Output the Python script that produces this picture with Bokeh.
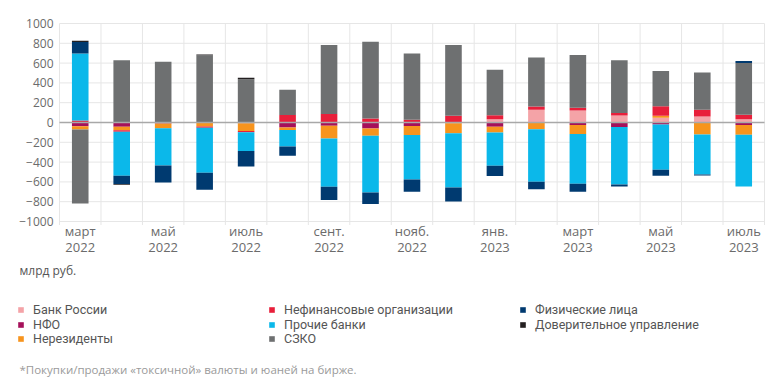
import numpy as np
from bokeh.plotting import figure
from bokeh.models import (Range1d, FixedTicker, ColumnDataSource, Label,
                          Legend, LegendItem)
from bokeh.embed import file_html
from bokeh.resources import INLINE

# ---------------- data ----------------
months = ["2022-03", "2022-04", "2022-05", "2022-06", "2022-07", "2022-08", "2022-09",
          "2022-10", "2022-11", "2022-12", "2023-01", "2023-02", "2023-03", "2023-04",
          "2023-05", "2023-06", "2023-07"]
tick_labels = {0: "март\n2022", 2: "май\n2022", 4: "июль\n2022", 6: "сент.\n2022",
               8: "нояб.\n2022", 10: "янв.\n2023", 12: "март\n2023", 14: "май\n2023",
               16: "июль\n2023"}

series_names = ["Банк России", "НФО", "Нерезиденты", "Нефинансовые организации",
                "Прочие банки", "СЗКО", "Физические лица", "Доверительное управление"]
series_colors = ["#F4A3A7", "#A5105A", "#F7941D", "#E81F3A",
                 "#0BB8EA", "#6E7071", "#003A70", "#231F20"]

bank_russia = [0, 0, 0, 0, 0, 0, 0, 0, 0, 0, 34, 128, 121, 70, 47, 61, 32]
nfo = [-37, -44, -10, 0, -8, -50, -33, -61, -35, -8, -44, -5, -25, -45, -20, 0, -25]
nonresidents = [-34, -34, -47, -40, -78, -27, -128, -73, -92, -100, -57, -62, -92, 0, 20, -121, -99]
nonfinancial = [20, -15, 0, -13, -12, 75, 85, 40, 27, 68, 40, 34, 27, 25, 98, 67, 47]
other_banks = [677, -445, -377, -455, -189, -165, -488, -573, -449, -548, -336, -532, -502, -581, -458, -404, -522]
szko = [-747, 630, 613, 680, 438, 255, 697, 775, 670, 714, 458, 495, 533, 535, 354, 377, 523]
individuals = [115, -83, -172, -172, -158, -94, -135, -117, -124, -142, -104, -74, -81, -20, -60, -10, 20]
trust = [13, -8, 0, 8, 13, 0, 0, 0, 0, 0, 0, 0, 0, 0, 0, 0, 0]

all_series = [bank_russia, nfo, nonresidents, nonfinancial, other_banks, szko, individuals, trust]

y_ticks = [-1000, -800, -600, -400, -200, 0, 200, 400, 600, 800, 1000]

unit_text = "млрд руб."
footnote = "*Покупки/продажи «токсичной» валюты и юаней на бирже."

FONT = "Open Sans"
LEGEND_FONT = "Roboto"
TICK_COLOR = "#6b6b6b"
GRID_COLOR = "#e6e6e6"

# ---------------- geometry (pixels) ----------------
FW, FH = 775, 382            # frame size
PX_X = 41.47                 # px per month
PX_Y = 0.099                 # px per value unit
LEFT0 = 1.0                  # expected frame left on the page
X0_PAGE, Y1000_PAGE = 60.0, 23.0
LEGEND_ROWS_Y = [310, 324.5, 339]

def x_at(page):   # page px -> data x
    return -0.5 + (page - X0_PAGE) / PX_X

def y_at(page):   # page px -> data y
    return 1000 - (page - Y1000_PAGE) / PX_Y

n = len(months)
xs = np.arange(n)

p = figure(frame_width=FW, frame_height=FH, output_backend="svg", toolbar_location=None,
           x_range=Range1d(x_at(LEFT0), x_at(LEFT0 + FW)),
           y_range=Range1d(y_at(FH), y_at(0)),
           min_border_left=0, min_border_right=0, min_border_top=0, min_border_bottom=0)
p.outline_line_color = None
p.background_fill_color = "white"
p.border_fill_color = "white"
p.xgrid.visible = False
p.ygrid.visible = False

# grid lines limited to the plotting area
bounds = list(np.arange(n + 1) - 0.5)
p.segment(x0=bounds, x1=bounds, y0=[y_at(224.5)] * len(bounds), y1=[1000] * len(bounds),
          line_color=GRID_COLOR, line_width=1)
p.segment(x0=[-0.5] * len(y_ticks), x1=[n - 0.5] * len(y_ticks), y0=y_ticks, y1=y_ticks,
          line_color=GRID_COLOR, line_width=1)

renderers = []
pos_base = np.zeros(n)
neg_base = np.zeros(n)
for name, color, vals in zip(series_names, series_colors, all_series):
    v = np.array(vals, dtype=float)
    bottom = np.where(v >= 0, pos_base, neg_base + v)
    top = np.where(v >= 0, pos_base + v, neg_base)
    pos_base = pos_base + np.where(v > 0, v, 0)
    neg_base = neg_base + np.where(v < 0, v, 0)
    src = ColumnDataSource(dict(x=xs, bottom=bottom, top=top))
    r = p.vbar(x="x", bottom="bottom", top="top", width=0.4, source=src,
               fill_color=color, line_color=None)
    renderers.append(r)

# zero line
p.segment(x0=[-0.5], x1=[n - 0.5], y0=[0], y1=[0], line_color="#a8a8a8", line_width=1.5)

# x axis (drawn at a fixed place inside the canvas)
p.xaxis.fixed_location = y_at(250.5)
p.xaxis.ticker = FixedTicker(ticks=list(tick_labels.keys()))
p.xaxis.major_label_overrides = tick_labels
p.xaxis.axis_line_color = None
p.xaxis.major_tick_line_color = None
p.xaxis.minor_tick_line_color = None
p.xaxis.major_tick_out = 0
p.xaxis.major_tick_in = 0
p.xaxis.major_label_standoff = -29
p.xaxis.major_label_text_font = FONT
p.xaxis.major_label_text_font_size = "13px"
p.xaxis.major_label_text_line_height = 0.88
p.xaxis.major_label_text_color = TICK_COLOR

# y axis
p.yaxis.fixed_location = x_at(24)
p.yaxis.ticker = FixedTicker(ticks=y_ticks)
p.yaxis.axis_line_color = None
p.yaxis.major_tick_line_color = None
p.yaxis.minor_tick_line_color = None
p.yaxis.major_tick_out = 0
p.yaxis.major_tick_in = 0
p.yaxis.major_label_standoff = -30
p.yaxis.major_label_text_font = FONT
p.yaxis.major_label_text_font_size = "12px"
p.yaxis.major_label_text_color = TICK_COLOR

# ---------------- legend (one row each, column-major order) & notes ----------------
n_rows = 3
for row in range(n_rows):
    idx = list(range(row, len(series_names), n_rows))
    lg = Legend(items=[LegendItem(label=series_names[i], renderers=[renderers[i]]) for i in idx],
                location=(18 - LEFT0, FH - LEGEND_ROWS_Y[row] - 7), orientation="horizontal",
                glyph_width=7, glyph_height=7, label_standoff=9, label_width=235,
                label_height=12, spacing=0, padding=0, margin=0,
                border_line_color=None, background_fill_alpha=0,
                label_text_font=LEGEND_FONT, label_text_font_size="12.5px",
                label_text_color="#555555")
    p.add_layout(lg, "center")

p.add_layout(Label(x=20 - LEFT0, y=FH - 270, x_units="screen", y_units="screen", text=unit_text,
                   text_font=FONT, text_font_size="12px", text_color="#555555",
                   text_baseline="middle"))
p.add_layout(Label(x=20 - LEFT0, y=FH - 369, x_units="screen", y_units="screen", text=footnote,
                   text_font=FONT, text_font_size="11.5px", text_color="#9a9a9a",
                   text_baseline="middle"))

open("out.html", "w").write(file_html(p, INLINE))
